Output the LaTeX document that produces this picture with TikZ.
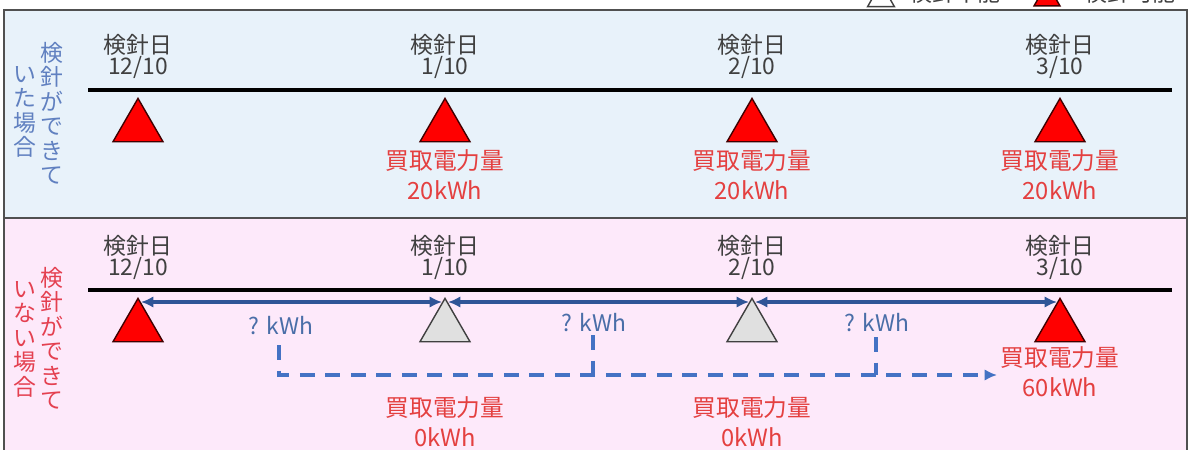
\documentclass[tikz,border=0pt]{standalone}
\usepackage{fontspec}
\setmainfont{Noto Sans CJK JP}
\usetikzlibrary{shapes.geometric,arrows.meta}
\definecolor{topbg}{RGB}{232,242,250}
\definecolor{botbg}{RGB}{253,233,250}
\definecolor{frame}{RGB}{80,80,80}
\definecolor{redtxt}{RGB}{228,64,64}
\definecolor{vblue}{RGB}{96,128,192}
\definecolor{vred}{RGB}{228,64,80}
\definecolor{arrblue}{RGB}{47,85,151}
\definecolor{dashblue}{RGB}{68,114,196}
\definecolor{qblue}{RGB}{74,110,168}
\definecolor{datetxt}{RGB}{64,64,64}
\definecolor{trired}{RGB}{255,0,0}
\definecolor{trigray}{RGB}{224,224,224}
\tikzset{
  tri/.style={regular polygon, regular polygon sides=3, minimum size=1.155cm, inner sep=0pt, anchor=corner 1, line width=0.8pt},
  redtri/.style={tri, fill=trired, draw=black!75!red},
  graytri/.style={tri, fill=trigray, draw=black!75},
  datelbl/.style={align=center, text=datetxt, font=\fontsize{13}{12}\selectfont, inner sep=0pt},
  amount/.style={align=center, text=redtxt, font=\fontsize{13.5}{17}\selectfont, inner sep=0pt},
  vtext/.style={align=center, font=\fontsize{13}{13.9}\selectfont, inner sep=0pt, anchor=north},
  qlbl/.style={text=qblue, font=\fontsize{13}{14}\selectfont, inner sep=0pt},
  timeline/.style={line width=2.8pt, black},
  biarrow/.style={arrblue, line width=1.8pt, {Latex[length=7pt,width=6.5pt]}-{Latex[length=7pt,width=6.5pt]}},
  dashln/.style={dashblue, line width=2pt, dash pattern=on 0.3cm off 0.21cm},
  dasharrow/.style={dashln, -{Latex[length=7pt,width=6.5pt]}},
  legtxt/.style={text=datetxt, font=\fontsize{13}{14}\selectfont, inner sep=0pt, anchor=base}
}
\begin{document}
\begin{tikzpicture}[x=0.02cm,y=-0.02cm]
\useasboundingbox (0,0) rectangle (1191,450);
% panels
\fill[topbg] (4,10) rectangle (1187,218);
\fill[botbg] (4,218) rectangle (1187,460);
\draw[frame, line width=1.2pt] (4,460) -- (4,10) -- (1187,10) -- (1187,460);
\draw[frame, line width=1.2pt] (4,218) -- (1187,218);
% legend (cut off at top, as in the source)
\node[graytri, minimum size=0.62cm, fill=white] (lg1) at (881,-18) {};
\node[legtxt] (lt1) at (955,1) {検針不能};
\node[redtri, minimum size=0.6cm] (lg2) at (1047,-18) {};
\node[legtxt] (lt2) at (1130,1) {検針可能};
% ---------- top panel ----------
\node[vtext, text=vblue] (tv1) at (52,42) {検\\針\\が\\で\\き\\て};
\node[vtext, text=vblue] (tv2) at (25,66) {い\\た\\場\\合};
\coordinate (tl1) at (88,90);
\coordinate (tl2) at (1172,90);
\draw[timeline] (tl1) -- (tl2);
\foreach \x/\d/\n in {138/12\slash 10/1,445/1\slash 10/2,752/2\slash 10/3,1060/3\slash 10/4}{
  \node[datelbl] (td\n) at (\x,56) {検針日\\\d};
  \node[redtri] (tt\n) at (\x,97) {};
}
\foreach \x/\n in {445/2,752/3,1060/4}{
  \node[amount] (ta\n) at (\x,175) {買取電力量\\20kWh};
}
% ---------- bottom panel ----------
\node[vtext, text=vred] (bv1) at (52,267) {検\\針\\が\\で\\き\\て};
\node[vtext, text=vred] (bv2) at (25,281) {い\\な\\い\\場\\合};
\coordinate (bl1) at (88,290);
\coordinate (bl2) at (1172,290);
\draw[timeline] (bl1) -- (bl2);
\foreach \x/\d/\n in {138/12\slash 10/1,445/1\slash 10/2,752/2\slash 10/3,1060/3\slash 10/4}{
  \node[datelbl] (bd\n) at (\x,257) {検針日\\\d};
}
\node[redtri] (bt1) at (138,297) {};
\node[graytri] (bt2) at (445,297) {};
\node[graytri] (bt3) at (752,297) {};
\node[redtri] (bt4) at (1060,297) {};
\draw[biarrow] ([shift={(3,5)}]bt1.corner 1) -- ([shift={(-3,5)}]bt2.corner 1);
\draw[biarrow] ([shift={(3,5)}]bt2.corner 1) -- ([shift={(-3,5)}]bt3.corner 1);
\draw[biarrow] ([shift={(3,5)}]bt3.corner 1) -- ([shift={(-3,5)}]bt4.corner 1);
\node[qlbl] (q1) at (281,326) {? kWh};
\node[qlbl] (q2) at (594,323) {? kWh};
\node[qlbl] (q3) at (877,323) {? kWh};
\coordinate (d1) at (279,375);
\coordinate (d2) at (593,375);
\coordinate (d3) at (876,375);
\coordinate (dend) at (997,375);
\draw[dasharrow] (279,345) -- (d1) -- (dend);
\draw[dashln] (593,335) -- (d2);
\draw[dashln] (876,337) -- (d3);
\node[amount] (ba2) at (445,422) {買取電力量\\0kWh};
\node[amount] (ba3) at (752,422) {買取電力量\\0kWh};
\node[amount] (ba4) at (1060,372) {買取電力量\\60kWh};
\end{tikzpicture}
\end{document}
